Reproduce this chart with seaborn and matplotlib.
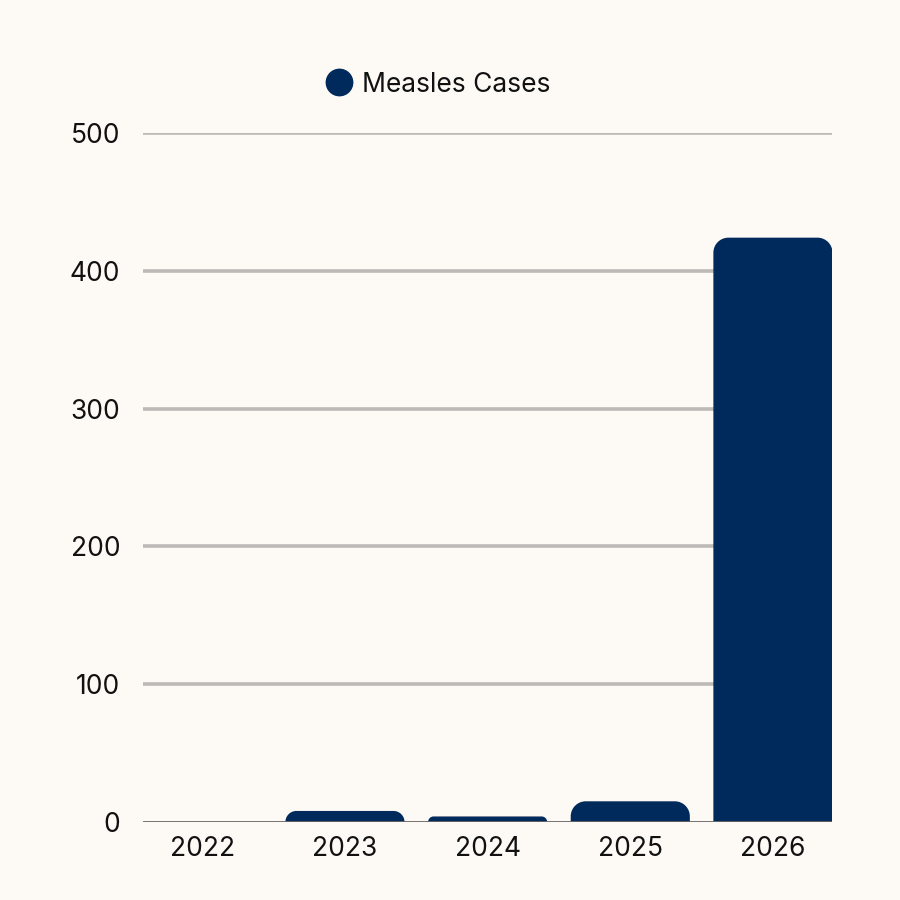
import matplotlib
matplotlib.use("Agg")
import matplotlib.pyplot as plt
import seaborn as sns
import pandas as pd
from matplotlib.path import Path
from matplotlib.patches import PathPatch
from matplotlib.lines import Line2D

years = ["2022", "2023", "2024", "2025", "2026"]
cases = [0, 8, 4, 15, 424]

BG = "#fdfaf5"
NAVY = "#002a5c"
GRID = "#bdb9b6"
BASE = "#6b6563"

sns.set_theme(style="white")
plt.rcParams["font.family"] = ["Inter", "DejaVu Sans"]

df = pd.DataFrame({"year": years, "cases": cases})

fig = plt.figure(figsize=(9, 9), dpi=100, facecolor=BG)
ax = fig.add_axes([0.159, 0.0867, 0.7656, 0.7656])
ax.set_facecolor(BG)

sns.barplot(data=df, x="year", y="cases", color=NAVY, width=0.835,
            saturation=1, ax=ax, zorder=3)

ax.set_xlim(-0.415, 4.415)
ax.set_ylim(0, 500)

# swap the square bars for ones with rounded top corners
r_px = 15
px_x = ax.bbox.width / (ax.get_xlim()[1] - ax.get_xlim()[0])
px_y = ax.bbox.height / (ax.get_ylim()[1] - ax.get_ylim()[0])
for p in list(ax.patches):
    x0, w, h = p.get_x(), p.get_width(), p.get_height()
    p.remove()
    if h <= 0:
        continue
    r = min(r_px, h * px_y)
    rx, ry = r / px_x, r / px_y
    k = 0.5523
    verts = [(x0, 0), (x0, h - ry),
             (x0, h - ry + k * ry), (x0 + rx - k * rx, h), (x0 + rx, h),
             (x0 + w - rx, h),
             (x0 + w - rx + k * rx, h), (x0 + w, h - ry + k * ry), (x0 + w, h - ry),
             (x0 + w, 0), (x0, 0)]
    codes = [Path.MOVETO, Path.LINETO,
             Path.CURVE4, Path.CURVE4, Path.CURVE4,
             Path.LINETO,
             Path.CURVE4, Path.CURVE4, Path.CURVE4,
             Path.LINETO, Path.CLOSEPOLY]
    ax.add_patch(PathPatch(Path(verts, codes), facecolor=NAVY, edgecolor="none", zorder=3))

ax.set_yticks([0, 100, 200, 300, 400, 500])
for v in [100, 200, 300, 400, 500]:
    ax.axhline(v, color=GRID, lw=2.6, zorder=1)
ax.axhline(0, color=BASE, lw=2, zorder=4)

for s in ax.spines.values():
    s.set_visible(False)
ax.set_xlabel("")
ax.set_ylabel("")
ax.tick_params(axis="both", length=0, labelsize=19, colors="#111111")
ax.tick_params(axis="y", pad=16.5)
ax.tick_params(axis="x", pad=10)

handle = Line2D([], [], marker="o", color="none", markerfacecolor=NAVY,
                markeredgecolor=NAVY, markersize=19)
fig.legend([handle], ["Measles Cases"], loc="center", bbox_to_anchor=(0.487, 0.906),
           frameon=False, fontsize=19, handletextpad=0.35, handlelength=1.0,
           labelcolor="#111111")

fig.savefig("out.png", dpi=100, facecolor=BG)
